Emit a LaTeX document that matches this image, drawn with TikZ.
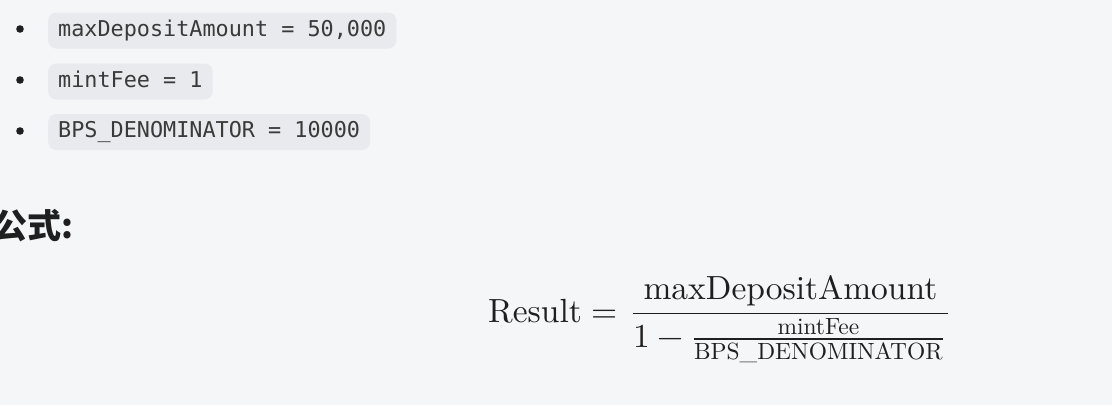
\documentclass[tikz,border=0pt]{standalone}
\usepackage{fontspec}
\usepackage{amsmath}
\usepackage{unicode-math}
\setmainfont{lmroman10-regular.otf}[BoldFont=lmroman10-bold.otf,ItalicFont=lmroman10-italic.otf]
\setmonofont{DejaVu Sans Mono}
\newfontfamily\cjk{Noto Sans CJK SC}
\definecolor{pagebg}{HTML}{F5F6F8}
\definecolor{codebg}{HTML}{E8EAED}
\definecolor{codetxt}{HTML}{3A3A3A}
\definecolor{bodytxt}{HTML}{1F1F1F}
\begin{document}
\begin{tikzpicture}[x=1pt,y=-1pt,
    code/.style={anchor=west,rounded corners=8pt,fill=codebg,text=codetxt,
      font=\ttfamily\fontsize{21.8}{26}\selectfont,
      inner xsep=10pt,inner ysep=0pt,text height=16pt,text depth=5pt,
      minimum height=36pt},
    dot/.style={fill=bodytxt}]
    \fill[pagebg] (0,0) rectangle (1112,405);
    \useasboundingbox (0,0) rectangle (1112,405);
    % list of values
    \fill[dot] (20,29) circle (3.8);
    \node[code] (dep) at (48,30.5) {maxDepositAmount = 50,000};
    \fill[dot] (20,80) circle (3.8);
    \node[code] (fee) at (48,81.5) {mintFee = 1};
    \fill[dot] (20,131) circle (3.8);
    \node[code] (bps) at (48,132) {BPS\_DENOMINATOR = 10000};
    % heading
    \node[anchor=base west,inner sep=0pt,text=bodytxt,
          font=\cjk\bfseries\fontsize{34}{40}\selectfont] (head) at (-7,238) {公式:};
    % formula
    \node[anchor=base west,inner sep=0pt,text=bodytxt,
          font=\fontsize{33.5}{40}\selectfont] (res) at (488,322)
      {$\displaystyle \text{Result} = \mkern3mu\frac{\text{maxDepositAmount}}
        {1-\mkern1mu\frac{\text{mintFee}}{\text{BPS\_DENOMINATOR}}\mkern2mu}$};
\end{tikzpicture}
\end{document}
